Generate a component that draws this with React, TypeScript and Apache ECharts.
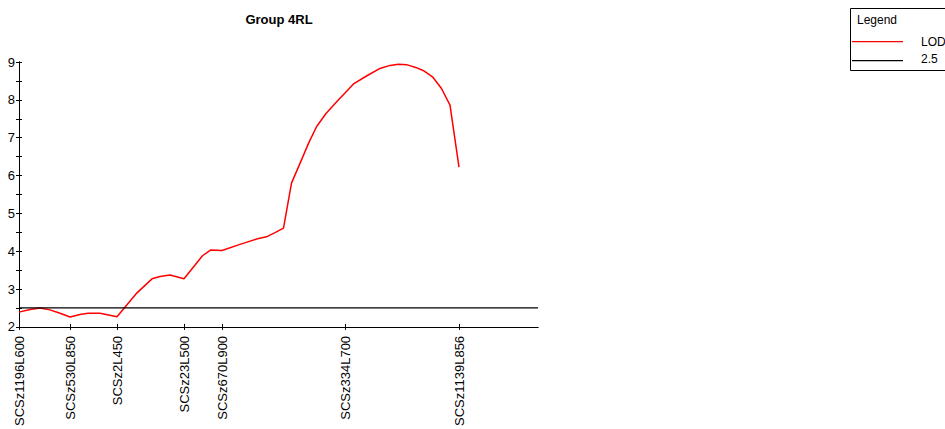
import React, { useEffect, useRef } from "react";
import * as echarts from "echarts";

const titleText = "Group 4RL";
const markerNames = ["SCSz1196L600", "SCSz530L850", "SCSz2L450", "SCSz23L500", "SCSz670L900", "SCSz334L700", "SCSz1139L856"];
const markerPos = [0, 10.2, 19.6, 33.0, 40.6, 65.2, 88.0];
const xMax = 103.8;
const lodPos = [0, 2.2, 4.2, 6.2, 8.2, 10.2, 12.2, 13.8, 16.2, 19.6, 23.6, 26.6, 28.2, 30.2, 33.0, 36.7, 38.3, 40.6, 44.2, 47.5, 49.5, 51.2, 52.9, 54.5, 56.2, 57.9, 59.5, 61.4, 63.9, 65.2, 66.9, 69.5, 72.2, 74.2, 75.9, 77.5, 79.5, 80.9, 82.7, 84.5, 86.2, 88.0];
const lodVal = [2.39, 2.46, 2.5, 2.45, 2.36, 2.26, 2.33, 2.36, 2.36, 2.27, 2.9, 3.27, 3.33, 3.37, 3.27, 3.88, 4.03, 4.02, 4.18, 4.32, 4.38, 4.49, 4.61, 5.8, 6.32, 6.85, 7.29, 7.64, 8.0, 8.18, 8.42, 8.63, 8.83, 8.91, 8.94, 8.93, 8.85, 8.77, 8.61, 8.3, 7.86, 6.22];
const thresholdValue = 2.5;
const legendItems = ["LOD", "2.5"];

export default function App() {
  const ref = useRef<HTMLDivElement>(null);
  useEffect(() => {
    document.body.style.margin = "0";
    const chart = echarts.init(ref.current!, null, { renderer: "svg" });
    const font = "Arial, 'Liberation Sans', sans-serif";
    const lodData = lodPos.map((p, i) => [p, lodVal[i]]);
    const thrData = [[0, thresholdValue], [xMax, thresholdValue]];
    const xBase = {
      type: "value" as const,
      min: 0,
      max: xMax,
      position: "bottom" as const,
      splitLine: { show: false },
      axisLine: { show: true, lineStyle: { color: "#000", width: 1 } },
    };
    const yBase = {
      type: "value" as const,
      min: 2,
      max: 9,
      interval: 0.5,
      position: "left" as const,
      splitLine: { show: false },
      axisLine: { show: true, lineStyle: { color: "#000", width: 1 } },
    };
    chart.setOption({
      animation: false,
      backgroundColor: "#fff",
      title: {
        text: titleText,
        left: 274,
        textAlign: "center",
        top: 8,
        textStyle: { fontFamily: font, fontSize: 13, fontWeight: "bold", color: "#000" },
      },
      grid: { left: 19, top: 62, width: 519, height: 265 },
      xAxis: [
        {
          ...xBase,
          axisTick: { show: true, inside: false, length: 3, customValues: markerPos, lineStyle: { color: "#000" } },
          axisLabel: {
            show: true,
            customValues: markerPos,
            rotate: 90,
            margin: 9,
            fontFamily: font,
            fontSize: 13,
            color: "#000",
            formatter: (v: number) => {
              const i = markerPos.findIndex((p) => Math.abs(p - v) < 1e-6);
              return i >= 0 ? markerNames[i] : "";
            },
          },
        },
        {
          ...xBase,
          axisTick: { show: true, inside: true, length: 3, customValues: markerPos, lineStyle: { color: "#000" } },
          axisLabel: { show: false },
        },
      ],
      yAxis: [
        {
          ...yBase,
          axisTick: { show: true, inside: false, length: 3, lineStyle: { color: "#000" } },
          axisLabel: {
            show: true,
            margin: 4,
            fontFamily: font,
            fontSize: 13,
            color: "#000",
            formatter: (v: number) => (Math.abs(v - Math.round(v)) < 1e-6 ? String(Math.round(v)) : ""),
          },
        },
        {
          ...yBase,
          axisTick: { show: true, inside: true, length: 3, lineStyle: { color: "#000" } },
          axisLabel: { show: false },
        },
      ],
      series: [
        {
          name: legendItems[0],
          type: "line",
          data: lodData,
          showSymbol: false,
          lineStyle: { color: "#ff0000", width: 1.5 },
          itemStyle: { color: "#ff0000" },
        },
        {
          name: legendItems[1],
          type: "line",
          data: thrData,
          showSymbol: false,
          lineStyle: { color: "#000", width: 1.3 },
          itemStyle: { color: "#000" },
        },
      ],
      graphic: [
        { type: "rect", shape: { x: 850.5, y: 8.5, width: 110, height: 62 }, style: { fill: "#fff", stroke: "#000", lineWidth: 1 } },
        { type: "text", x: 877, y: 20, style: { text: "Legend", font: `12px ${font}`, fill: "#000", align: "center", verticalAlign: "middle" } },
        { type: "rect", shape: { x: 852, y: 41, width: 51, height: 1.2 }, style: { fill: "#ff0000", stroke: null } },
        { type: "rect", shape: { x: 852, y: 60, width: 51, height: 1.2 }, style: { fill: "#000", stroke: null } },
        { type: "text", x: 921, y: 42, style: { text: legendItems[0], font: `12px ${font}`, fill: "#000", verticalAlign: "middle" } },
        { type: "text", x: 921, y: 59, style: { text: legendItems[1], font: `12px ${font}`, fill: "#000", verticalAlign: "middle" } },
      ],
    });
    return () => chart.dispose();
  }, []);
  return <div ref={ref} style={{ width: 945, height: 429 }} />;
}
